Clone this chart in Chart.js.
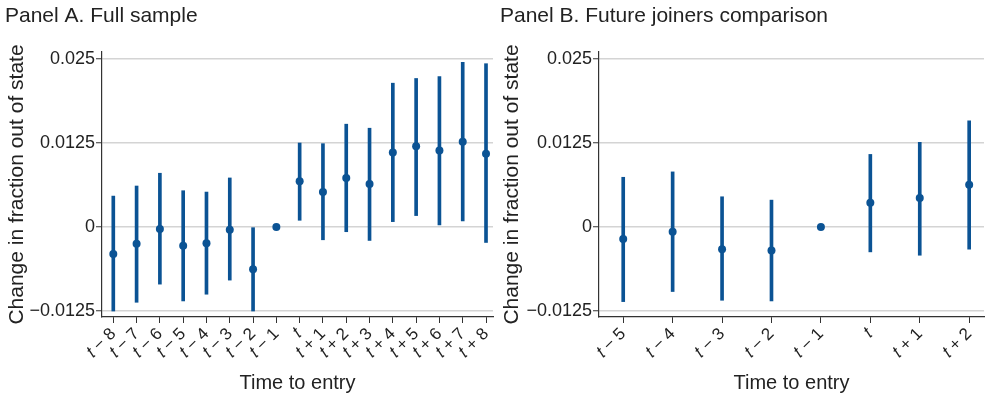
<!DOCTYPE html>
<html>
<head>
<meta charset="utf-8">
<script src="https://cdn.jsdelivr.net/npm/chart.js@4.4.0/dist/chart.umd.min.js"></script>
<style>
  body { margin: 0; background: #fff; overflow: hidden; }
  #wrap { position: relative; width: 985px; height: 400px; overflow: hidden; }
  .panel { position: absolute; top: 0; height: 400px; }
</style>
</head>
<body>
<div id="wrap">
  <div class="panel" style="left:0;width:497px"><canvas id="chartA" width="497" height="400"></canvas></div>
  <div class="panel" style="left:495px;width:493px"><canvas id="chartB" width="493" height="400"></canvas></div>
</div>
<script>
// Panel A: full sample
const labelsA = ["𝑡 − 8", "𝑡 − 7", "𝑡 − 6", "𝑡 − 5", "𝑡 − 4", "𝑡 − 3", "𝑡 − 2", "𝑡 − 1",
  "𝑡", "𝑡 + 1", "𝑡 + 2", "𝑡 + 3", "𝑡 + 4", "𝑡 + 5", "𝑡 + 6", "𝑡 + 7", "𝑡 + 8"];
const estA = [-0.0040, -0.0025, -0.0003, -0.0028, -0.0024, -0.0004, -0.0063, 0,
  0.0068, 0.0052, 0.0073, 0.0064, 0.0111, 0.0120, 0.0114, 0.0127, 0.0109];
const loA = [-0.0125, -0.0112, -0.0085, -0.0110, -0.0100, -0.0079, -0.0125, null,
  0.0010, -0.0019, -0.0007, -0.0020, 0.0008, 0.0017, 0.0003, 0.0009, -0.0023];
const hiA = [0.0046, 0.0061, 0.0080, 0.0054, 0.0052, 0.0073, -0.0001, null,
  0.0125, 0.0124, 0.0153, 0.0147, 0.0214, 0.0221, 0.0224, 0.0245, 0.0243];

// Panel B: future joiners comparison
const labelsB = ["𝑡 − 5", "𝑡 − 4", "𝑡 − 3", "𝑡 − 2", "𝑡 − 1", "𝑡", "𝑡 + 1", "𝑡 + 2"];
const estB = [-0.0018, -0.0007, -0.0033, -0.0035, 0, 0.0036, 0.0043, 0.0063];
const loB = [-0.0111, -0.0096, -0.0109, -0.0110, null, -0.0037, -0.0042, -0.0033];
const hiB = [0.0074, 0.0082, 0.0045, 0.0040, null, 0.0108, 0.0126, 0.0158];

const yTicks = [-0.0125, 0, 0.0125, 0.025];

const navy = "#0b5394";
const ink = "#222";
const font = "'Liberation Sans', Arial, Helvetica, sans-serif";

function fmtY(v) {
  if (v === 0) return "0";
  return (v < 0 ? "−" : "") + Math.abs(v).toString();
}

function makePanel(canvasId, title, labels, est, lo, hi, xMin, xMax, yWidth) {
  const points = est.map((v, i) => ({ x: i, y: v }));
  const bars = lo.map((v, i) => ({ x: i, y: v === null ? null : [v, hi[i]] }));

  return new Chart(document.getElementById(canvasId), {
    data: {
      datasets: [
        {
          type: "scatter",
          data: points,
          pointRadius: 4,
          pointHoverRadius: 4,
          backgroundColor: navy,
          borderWidth: 0,
          order: 0,
        },
        {
          type: "bar",
          data: bars,
          backgroundColor: navy,
          barThickness: 3,
          order: 1,
        },
      ],
    },
    options: {
      responsive: false,
      animation: false,
      layout: { padding: { left: 5, right: 0, top: 0, bottom: 0 } },
      plugins: {
        legend: { display: false },
        tooltip: { enabled: false },
        title: {
          display: true,
          text: title,
          align: "start",
          color: ink,
          font: { family: font, size: 21, weight: "normal" },
          padding: { top: 4, bottom: 22.8 },
        },
      },
      scales: {
        x: {
          type: "linear",
          offset: false,
          min: xMin,
          max: xMax,
          afterBuildTicks: (scale) => {
            scale.ticks = labels.map((_, i) => ({ value: i }));
          },
          afterFit: (scale) => {
            scale.height = 83;
            scale.paddingLeft = 0;
            scale.paddingRight = 0;
          },
          grid: { offset: false, drawOnChartArea: false, drawTicks: true, tickLength: 6, tickColor: "#333", tickWidth: 1 },
          border: { display: true, color: "#333", width: 1.2 },
          ticks: {
            autoSkip: false,
            minRotation: 45,
            maxRotation: 45,
            padding: 1,
            color: ink,
            font: { family: font, size: 17 },
            callback: (v) => labels[v],
          },
          title: {
            display: true,
            text: "Time to entry",
            color: ink,
            font: { family: font, size: 20 },
            padding: { top: 0, bottom: 5 },
          },
        },
        y: {
          min: -0.01339,
          max: 0.02604,
          afterBuildTicks: (scale) => {
            scale.ticks = yTicks.map((v) => ({ value: v }));
          },
          afterFit: (scale) => { scale.width = yWidth; },
          grid: { color: "#d4d4d4", lineWidth: 1.5, tickLength: 6, tickColor: "#333", tickWidth: 1 },
          border: { display: true, color: "#333", width: 1.2 },
          ticks: {
            padding: 1,
            color: ink,
            font: { family: font, size: 18 },
            callback: (v) => fmtY(v),
          },
          title: {
            display: true,
            text: "Change in fraction out of state",
            color: ink,
            font: { family: font, size: 21 },
            padding: 0,
          },
        },
      },
    },
  });
}

makePanel("chartA", "Panel A. Full sample", labelsA, estA, loA, hiA, -0.485, 16.3, 97);
makePanel("chartB", "Panel B. Future joiners comparison", labelsB, estB, loB, hiB, -0.49, 7.3, 99);
</script>
</body>
</html>
